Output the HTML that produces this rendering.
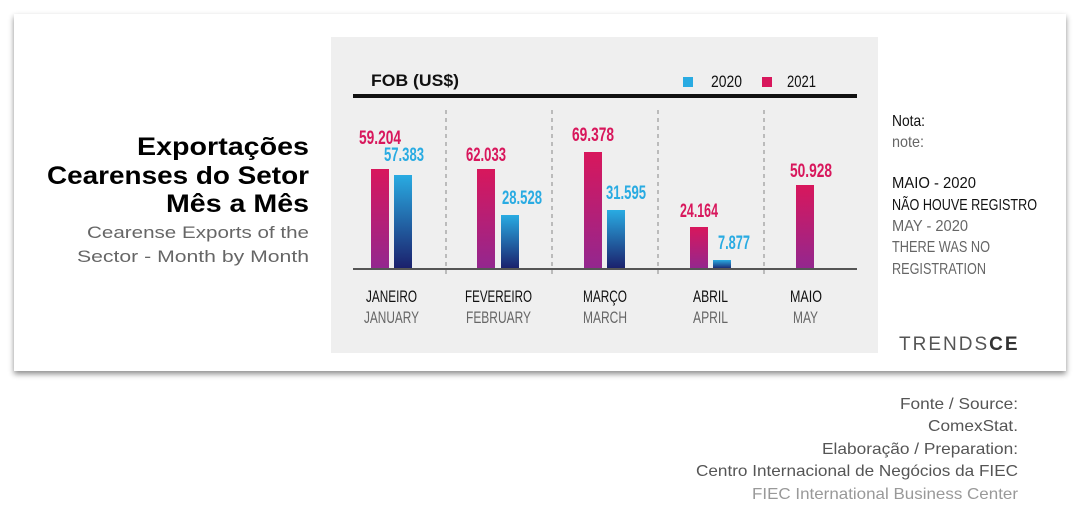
<!DOCTYPE html>
<html><head><meta charset="utf-8"><style>
html,body{margin:0;padding:0;background:#fff;width:1080px;height:525px;overflow:hidden}
svg{display:block}
.n{font-family:"Liberation Sans Narrow","Liberation Sans",sans-serif}
.s{font-family:"Liberation Sans",sans-serif}
</style></head><body>
<svg width="1080" height="525" viewBox="0 0 1080 525" xmlns="http://www.w3.org/2000/svg">
<defs>
<linearGradient id="p" x1="0" y1="0" x2="0" y2="1"><stop offset="0" stop-color="#d8175c"/><stop offset="1" stop-color="#93278f"/></linearGradient>
<linearGradient id="b" x1="0" y1="0" x2="0" y2="1"><stop offset="0" stop-color="#29abe2"/><stop offset="1" stop-color="#1b1f6b"/></linearGradient>
<filter id="sh" x="-5%" y="-5%" width="110%" height="120%"><feDropShadow dx="0" dy="3" stdDeviation="3" flood-color="#000" flood-opacity="0.45"/></filter>
</defs>
<rect x="14" y="14" width="1052" height="357" fill="#fff" filter="url(#sh)"/>
<rect x="331" y="37" width="547" height="316" fill="#efefef"/>
<text x="371" y="86" class="s" font-weight="bold" font-size="17" fill="#111" textLength="88" lengthAdjust="spacingAndGlyphs">FOB (US$)</text>
<rect x="683" y="77" width="10" height="10" fill="#29abe2"/>
<text x="711" y="87" class="n" font-size="17" fill="#111" textLength="31" lengthAdjust="spacingAndGlyphs">2020</text>
<rect x="762" y="77" width="10" height="10" fill="#d8175c"/>
<text x="787" y="87" class="n" font-size="17" fill="#111" textLength="29" lengthAdjust="spacingAndGlyphs">2021</text>
<rect x="353" y="94" width="504" height="4" fill="#111"/>
<g stroke="#aaa" stroke-width="1.5" stroke-dasharray="4,4">
<line x1="446" y1="110" x2="446" y2="276"/><line x1="552" y1="110" x2="552" y2="276"/>
<line x1="658" y1="110" x2="658" y2="276"/><line x1="764" y1="110" x2="764" y2="276"/>
</g>
<rect x="371" y="169" width="18" height="100" fill="url(#p)"/>
<rect x="394" y="175" width="18" height="94" fill="url(#b)"/>
<rect x="477" y="169" width="18" height="100" fill="url(#p)"/>
<rect x="501" y="215" width="18" height="54" fill="url(#b)"/>
<rect x="584" y="152" width="18" height="117" fill="url(#p)"/>
<rect x="607" y="210" width="18" height="59" fill="url(#b)"/>
<rect x="690" y="227" width="18" height="42" fill="url(#p)"/>
<rect x="713" y="260" width="18" height="9" fill="url(#b)"/>
<rect x="796" y="185" width="18" height="84" fill="url(#p)"/>
<rect x="353" y="268" width="504" height="2" fill="#555"/>
<g class="n" font-weight="bold" font-size="19" text-anchor="middle">
<text x="380" y="144" fill="#d8175c" textLength="42" lengthAdjust="spacingAndGlyphs">59.204</text>
<text x="404" y="161" fill="#29abe2" textLength="40" lengthAdjust="spacingAndGlyphs">57.383</text>
<text x="486" y="161" fill="#d8175c" textLength="40" lengthAdjust="spacingAndGlyphs">62.033</text>
<text x="522" y="204" fill="#29abe2" textLength="40" lengthAdjust="spacingAndGlyphs">28.528</text>
<text x="593" y="141" fill="#d8175c" textLength="42" lengthAdjust="spacingAndGlyphs">69.378</text>
<text x="626" y="199" fill="#29abe2" textLength="40" lengthAdjust="spacingAndGlyphs">31.595</text>
<text x="699" y="217" fill="#d8175c" textLength="38" lengthAdjust="spacingAndGlyphs">24.164</text>
<text x="734" y="249" fill="#29abe2" textLength="32" lengthAdjust="spacingAndGlyphs">7.877</text>
<text x="811" y="177" fill="#d8175c" textLength="42" lengthAdjust="spacingAndGlyphs">50.928</text>
</g>
<g class="n" font-size="17">
<g fill="#111"><text x="366" y="302" textLength="51" lengthAdjust="spacingAndGlyphs">JANEIRO</text><text x="465" y="302" textLength="67" lengthAdjust="spacingAndGlyphs">FEVEREIRO</text><text x="583" y="302" textLength="44" lengthAdjust="spacingAndGlyphs">MARÇO</text><text x="693" y="302" textLength="35" lengthAdjust="spacingAndGlyphs">ABRIL</text><text x="790" y="302" textLength="32" lengthAdjust="spacingAndGlyphs">MAIO</text></g>
<g fill="#666"><text x="364" y="323" textLength="55" lengthAdjust="spacingAndGlyphs">JANUARY</text><text x="466" y="323" textLength="65" lengthAdjust="spacingAndGlyphs">FEBRUARY</text><text x="583" y="323" textLength="44" lengthAdjust="spacingAndGlyphs">MARCH</text><text x="693" y="323" textLength="35" lengthAdjust="spacingAndGlyphs">APRIL</text><text x="793" y="323" textLength="25" lengthAdjust="spacingAndGlyphs">MAY</text></g>
</g>
<g class="s">
<text x="137" y="155" font-size="25" font-weight="bold" fill="#000" textLength="172" lengthAdjust="spacingAndGlyphs">Exportações</text>
<text x="47" y="184" font-size="25" font-weight="bold" fill="#000" textLength="262" lengthAdjust="spacingAndGlyphs">Cearenses do Setor</text>
<text x="166" y="212" font-size="25" font-weight="bold" fill="#000" textLength="143" lengthAdjust="spacingAndGlyphs">Mês a Mês</text>
<text x="87" y="238" font-size="17" fill="#666" textLength="222" lengthAdjust="spacingAndGlyphs">Cearense Exports of the</text>
<text x="77" y="262" font-size="17" fill="#666" textLength="232" lengthAdjust="spacingAndGlyphs">Sector - Month by Month</text>
</g>
<g class="n" font-size="16">
<text x="892" y="126" fill="#111" textLength="33" lengthAdjust="spacingAndGlyphs">Nota:</text>
<text x="892" y="147" fill="#666" textLength="32" lengthAdjust="spacingAndGlyphs">note:</text>
<text x="892" y="188" fill="#111" textLength="84" lengthAdjust="spacingAndGlyphs">MAIO - 2020</text>
<text x="892" y="210" fill="#111" textLength="145" lengthAdjust="spacingAndGlyphs">NÃO HOUVE REGISTRO</text>
<text x="892" y="231" fill="#666" textLength="76" lengthAdjust="spacingAndGlyphs">MAY - 2020</text>
<text x="892" y="252" fill="#666" textLength="98" lengthAdjust="spacingAndGlyphs">THERE WAS NO</text>
<text x="892" y="274" fill="#666" textLength="94" lengthAdjust="spacingAndGlyphs">REGISTRATION</text>
</g>
<text x="899" y="350" class="s" font-size="19" letter-spacing="2" fill="#555">TRENDS<tspan font-weight="bold" fill="#333">CE</tspan></text>
<g class="s" font-size="16" fill="#555">
<text x="900" y="409" textLength="118" lengthAdjust="spacingAndGlyphs">Fonte / Source:</text>
<text x="928" y="431" textLength="90" lengthAdjust="spacingAndGlyphs">ComexStat.</text>
<text x="822" y="454" textLength="196" lengthAdjust="spacingAndGlyphs">Elaboração / Preparation:</text>
<text x="696" y="476" textLength="322" lengthAdjust="spacingAndGlyphs">Centro Internacional de Negócios da FIEC</text>
<text x="752" y="499" fill="#999" textLength="266" lengthAdjust="spacingAndGlyphs">FIEC International Business Center</text>
</g>
</svg>
</body></html>
